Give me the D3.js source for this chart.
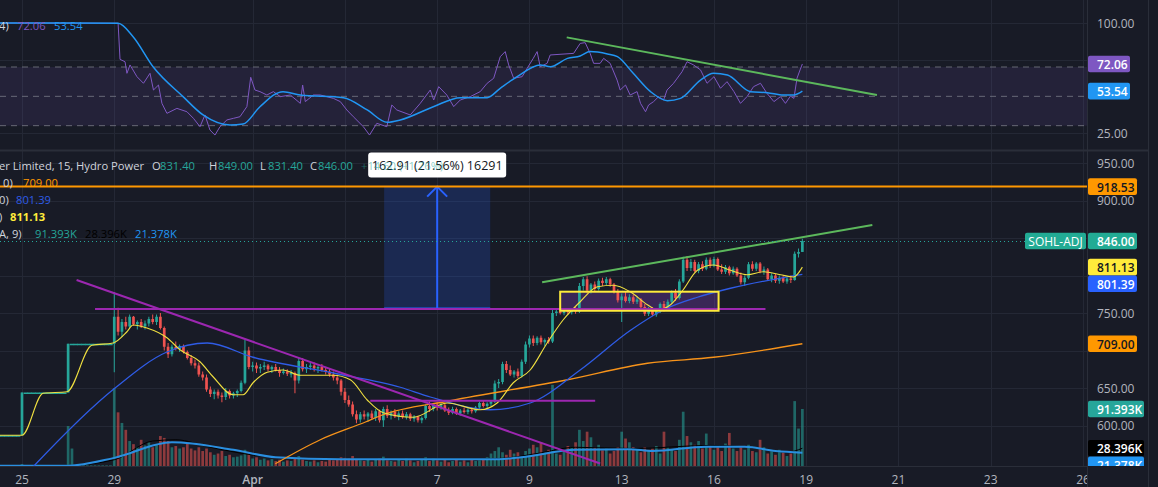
<!DOCTYPE html>
<html>
<head>
<meta charset="utf-8">
<script src="https://cdn.jsdelivr.net/npm/d3@7"></script>
<style>
  body { margin: 0; background: #181b26; overflow: hidden; }
  svg { display: block; font-family: "Open Sans", sans-serif; }
</style>
</head>
<body>
<svg id="chart" width="1158" height="487"></svg>
<script>
// ---- data ----
// time axis (day units, 12 bars per day)
var tickDays = [0, 2, 5, 7, 9, 11, 13, 15, 17, 19, 21, 23];
var tickLabels = ["25", "29", "Apr", "5", "7", "9", "13", "16", "19", "21", "23", "26"];
var priceTicks = [950, 900, 850, 800, 750, 700, 650, 600];
var rsiTicks = [100, 75, 50, 25];

// [open, high, low, close] per 15m bar
var candles = [
  [587,587,587,587],[587,587,587,587],[587,587,587,587],[587,587,587,587],[587,587,587,587],[587,587,587,587],
  [587,644,587,644],
  [644,644,644,644],[644,644,644,644],[644,644,644,644],[644,644,644,644],[644,644,644,644],[644,644,644,644],
  [644,644,644,644],[644,644,644,644],[644,644,644,644],[644,644,644,644],[644,644,644,644],
  [644,709,644,709],
  [709,709,709,709],[709,709,709,709],[709,709,709,709],[709,709,709,709],[709,709,709,709],[709,709,709,709],
  [709,709,709,709],[709,709,709,709],[709,709,709,709],[709,709,709,709],[709,709,709,709],
  [709,778,671,745],[745,757,720,725],[725,742,718,738],[738,745,728,732],[732,748,730,745],
  [745,746,733,735],[735,740,728,738],[738,742,730,732],[732,740,728,736],[736,745,732,742],
  [742,748,735,738],[738,748,734,745],[745,750,728,730],[730,732,700,705],[705,710,690,695],
  [695,708,692,705],[705,712,700,702],[702,708,698,706],[706,708,696,698],[698,700,688,690],
  [690,694,680,683],[683,688,676,680],[680,684,665,668],[668,672,660,664],[664,668,645,648],
  [648,652,638,642],[642,648,635,645],[645,648,636,640],[640,644,631,638],[638,650,634,646],
  [646,648,636,640],[640,645,636,643],[643,648,638,646],[646,660,644,657],[657,714,655,700],
  [700,705,675,678],[678,685,672,680],[680,684,670,676],[676,682,670,678],[678,685,674,680],
  [680,682,672,675],[675,680,670,678],[678,682,672,674],[674,678,665,670],[670,676,668,672],
  [672,675,666,669],[669,674,664,670],[670,672,643,660],[660,690,656,686],[686,690,672,675],
  [675,682,670,678],[678,684,674,680],[680,684,672,676],[676,680,670,678],[678,682,672,674],
  [674,678,668,672],[672,676,665,668],[668,672,660,664],[664,668,655,660],[660,662,640,645],
  [645,650,630,634],[634,640,625,628],[628,632,612,615],[615,620,603,608],[608,618,604,615],
  [615,620,608,612],[612,618,605,616],[616,620,608,610],[610,622,606,619],[619,621,604,607],
  [607,625,598,622],[622,627,610,613],[613,620,608,618],[618,622,610,612],[612,619,607,616],
  [616,620,609,611],[611,618,608,615],[615,617,606,609],[609,614,605,612],[612,613,604,607],
  [607,612,603,610],[610,628,608,626],[626,632,618,622],[622,630,619,628],[628,631,620,624],
  [624,630,621,627],[627,629,618,620],[620,624,614,617],[617,625,615,622],[622,624,614,616],
  [616,622,613,620],[620,624,616,618],[618,623,615,621],[621,624,616,619],[619,626,617,624],
  [624,632,622,630],[630,633,624,626],[626,631,623,629],[629,634,626,632],[632,660,630,656],
  [656,662,650,658],[658,685,655,682],[682,686,670,674],[674,680,666,668],[668,674,664,672],
  [672,676,663,666],[666,688,664,685],[685,712,682,708],[708,720,704,716],[716,720,706,710],
  [710,719,707,717],[717,720,708,711],[711,716,706,714],[714,718,709,712],[712,754,710,750],
  [750,756,746,752],[752,755,748,750],[750,754,747,753],[753,756,748,751],[751,755,748,754],
  [754,758,749,752],[752,790,750,786],[786,798,780,795],[795,799,776,780],[780,790,776,788],
  [788,792,778,782],[782,796,780,793],[793,797,786,790],[790,798,787,795],[795,797,785,788],
  [788,790,776,778],[778,782,764,767],[767,776,738,772],[772,778,764,766],[766,775,763,771],
  [771,774,762,765],[765,772,762,768],[768,770,756,758],[758,762,746,749],[749,758,746,755],
  [755,758,746,748],[748,756,745,753],[753,764,750,762],[762,766,752,756],[756,768,754,765],
  [765,780,762,777],[777,782,766,770],[770,795,768,792],[792,825,790,821],[821,826,806,810],
  [810,822,806,818],[818,821,804,806],[806,818,803,815],[815,819,806,809],[809,824,807,821],
  [821,824,810,813],[813,825,811,822],[822,824,806,808],[808,815,802,805],[805,814,802,811],
  [811,813,800,803],[803,812,801,809],[809,811,798,800],[800,804,788,791],[791,800,786,797],
  [797,818,795,815],[815,819,806,809],[809,818,806,816],[816,818,803,805],[805,812,801,808],
  [808,810,793,795],[795,803,791,800],[800,802,790,793],[793,800,789,797],[797,800,790,792],
  [792,798,789,796],[796,800,790,794],[794,832,793,829],[829,836,824,831.4],[831.4,849,831.4,846]
];

// volume per bar, thousands
var volumes = [
  0.5,0.5,0.5,0.5,0.5,0.5,3,0.5,0.5,0.5,0.5,0.5,0.5,0.5,0.5,0.5,0.5,0.5,64,28,
  1,1,1,1,1,1,1,1,1,1,125,86,69,58,40,35,30,42,33,38,
  30,35,48,45,40,30,32,28,30,36,28,25,30,24,28,22,18,20,24,16,
  18,14,15,17,26,20,12,14,10,12,9,11,8,10,7,9,8,12,16,10,
  8,7,9,6,8,7,10,9,11,14,13,12,16,10,9,8,11,7,10,12,
  15,9,8,7,10,8,12,9,6,8,10,14,8,12,9,7,10,6,8,11,
  7,9,6,10,8,9,12,14,20,24,30,22,18,26,20,22,16,24,28,34,
  30,38,22,26,130,20,18,24,32,30,38,58,40,55,46,30,34,25,28,20,
  24,30,55,44,38,30,26,22,30,25,28,32,20,55,30,26,24,42,87,48,
  38,34,40,28,52,32,26,30,24,36,53,28,24,30,26,34,24,22,42,30,
  20,24,18,26,22,16,20,104,60,91.393
];

// moving averages as [bar, price]
var maFast = [[0,587],[6,587],[11.5,643],[17.7,645],[24.2,707],[29.7,710],[33.3,725],[34.9,734],[38.5,730],
  [43.7,717],[47.1,701],[52.3,685],[55.7,665],[60.9,641],[63.5,641],[66.1,657],[69.8,671],[73.9,674],
  [78.4,667],[86.9,667],[91.4,661],[95.8,634],[100,617],[107.8,611],[116.6,630],[125.2,621],[129.6,630],
  [133.8,657],[138.2,674],[142.6,710],[146.8,741],[151.2,765],[155.7,785],[159.8,787],[164.3,778],
  [168.7,761],[171.3,754],[174.7,761],[178,781],[181.7,807],[185.9,814],[190.3,807],[194.7,801],
  [198.9,805],[203.3,801],[206.7,798],[209,811.13]];
var maMid = [[8,540],[9.1,546],[30.2,650],[43.7,698],[54.2,710],[66.1,691],[87,670],[104.4,651],[112.2,638],
  [127.8,621],[138.2,630],[151.2,674],[164.3,727],[172.8,754],[181.7,771],[190.3,783],[209,801.39]];
var maSlow = [[71.9,549],[83.6,581],[95.5,605],[99.2,613],[117.4,633],[147.9,661],[168.7,683],[185.9,691],[209,709]];
var volMa = [[0,0.5],[18,0.5],[30,13],[45,38],[61,26],[72,14],[89,11],[130,11],[136,14],[150,26],[164,27],
  [170,24],[184,31],[194,31],[202,24],[209,21.378]];
var volMa2 = [[0,0.5],[18,1],[30,10],[40,40],[46,42],[55,30],[70,15],[90,11],[130,12],[140,20],[150,30],
  [165,28],[185,33],[195,30],[205,22],[209,28.396]];

// RSI and its moving average as [bar, value]
var rsi = [[0,100],[31,99.8],[31.5,75.2],[32.8,73.6],[33.3,65.7],[34.1,71.4],[35.9,63.4],[37.6,58.9],[39.3,65.7],
  [40.2,54.3],[41.5,57.7],[42.4,45.2],[43.7,38.4],[46.3,41.8],[48.9,39.5],[50.6,35],[52.3,29.3],[53.6,37.3],
  [54.9,27],[56.2,23.6],[57.5,29.3],[59.3,33.9],[61,35],[62.7,36.1],[64.5,43],[65.5,63],[66.6,54.3],[67.9,53.2],
  [69.7,50.9],[71.4,53.2],[73.2,49.8],[75.8,50.9],[78.4,45.2],[79,57.7],[79.7,46.4],[81.8,50.9],[83.6,50.9],
  [87,48.6],[88.8,46.4],[90.5,40.7],[92.2,36.1],[94.8,29.3],[96.4,23.6],[98.3,31.6],[100.9,29.3],[102.2,44.1],
  [103.5,40.7],[107,37.3],[109.6,45.2],[112.2,54.3],[113.1,47.5],[114.4,56.6],[116.5,50.9],[118.3,43],[120,47.5],
  [122.6,49.8],[125.2,53.2],[127,58.9],[128.7,62.3],[130.4,77],[131.7,80.5],[132.6,71.4],[133.9,62.3],
  [136.1,63.4],[137.4,69.1],[139,75.9],[140,80.5],[140.8,70.2],[142.6,72.5],[143.4,78.2],[149.5,79.3],
  [151.2,86.1],[152.5,86.6],[153.8,79.3],[154.7,72.5],[156.4,72.5],[157.3,75.9],[159,72.5],[160.8,61.1],
  [161.6,54.3],[163,57.7],[164.2,50.9],[166,53.2],[166.9,45.2],[168.2,39.5],[169,44.1],[170.3,46.4],
  [171.6,49.8],[172.9,47.5],[173.8,54.3],[175.5,58.9],[177.7,66.8],[179,73.6],[180.7,71.4],[182.5,68],
  [184.2,58.9],[186,63.4],[187.7,55.5],[189.4,60],[191.2,53.2],[192.9,45.2],[194.6,49.8],[196.3,56.6],
  [198.1,58.9],[199.8,52],[201.6,46.4],[203.3,49.8],[204.6,45.2],[205.9,50.2],[206.8,48.6],[207.6,62.3],
  [208.4,68],[209,72.06]];
var rsiMa = [[0,100],[31,99.8],[34.9,90.7],[40.1,70.2],[47.9,49.8],[53.1,37.3],[60.1,30.5],[63.5,31.1],[67.9,42.9],
  [73.9,53.2],[78.4,50.9],[89.6,49.1],[95.8,40.7],[101,32.3],[104.4,33.9],[113,42.9],[120,49.1],[127,49.1],
  [130.4,55.5],[134.8,63.4],[140.8,71.4],[143.4,70.2],[147.9,75.9],[151.2,77.5],[153.8,80.5],[158.3,78.9],
  [160.9,77.1],[165,65.7],[169.5,53.2],[173.9,47],[177.3,48.6],[182.5,61.1],[185.9,65.7],[189.5,64.5],
  [195.5,53.2],[199.9,52.5],[204.1,50.9],[206.7,50.9],[209,53.54]];

// drawings as [bar, price]
var trendDown = [[20.2,794],[156.4,549.3]];
var resistance = [[25,755.3],[199.4,755.3]];
var baseLine = [[96.6,633],[155.1,633]];
var trendUp = [[141.3,790.9],[227.2,867.3]];
var zoneBox = [[146,778.4],[187.2,753]];
var measureBox = [[100.2,918.53],[127.8,755.62]];
var targetLevel = 918.53;
var rsiTrend = [[147.7,90.2],[228.4,50.9]];

// ---- layout ----
var W = 1158, H = 487;
var plotRight = 1087, axisRight = 1148;
var rsiBottom = 150, mainBottom = 466;
var barsPerDay = 12, firstDayBar = 6;

var up = "#26a69a", down = "#ef5350";
var gridColor = "#242835", textColor = "#b2b5be";

var svg = d3.select("#chart");

var xDay = d3.scaleLinear().domain([0, 23]).range([22, 1083]);
function bx(i) { return xDay((i - firstDayBar) / barsPerDay); }
var step = bx(1) - bx(0);
var bw = step * 0.7;

var yP = d3.scaleLinear().domain([950, 600]).range([163, 425.5]);
var yR = d3.scaleLinear().domain([100, 25]).range([23, 133]);
var yV = d3.scaleLinear().domain([0, 100]).range([mainBottom, 403.6]);

var defs = svg.append("defs");
defs.append("clipPath").attr("id", "clipRsi")
  .append("rect").attr("x", 0).attr("y", 0).attr("width", plotRight).attr("height", rsiBottom);
defs.append("clipPath").attr("id", "clipMain")
  .append("rect").attr("x", 0).attr("y", rsiBottom + 1).attr("width", plotRight).attr("height", mainBottom - rsiBottom - 1);
defs.append("clipPath").attr("id", "clipMainAxis")
  .append("rect").attr("x", 0).attr("y", rsiBottom + 1).attr("width", W).attr("height", mainBottom - rsiBottom - 1);

svg.append("rect").attr("width", W).attr("height", H).attr("fill", "#181b26");

// ---- grid ----
var grid = svg.append("g").attr("stroke", gridColor).attr("stroke-width", 1);
grid.selectAll(".vg").data(tickDays).enter().append("line")
  .attr("x1", function(d) { return Math.round(xDay(d)) + 0.5; })
  .attr("x2", function(d) { return Math.round(xDay(d)) + 0.5; })
  .attr("y1", 0).attr("y2", mainBottom);
grid.selectAll(".hg").data(priceTicks).enter().append("line")
  .attr("x1", 0).attr("x2", plotRight)
  .attr("y1", function(d) { return Math.round(yP(d)) + 0.5; })
  .attr("y2", function(d) { return Math.round(yP(d)) + 0.5; });
grid.selectAll(".rg").data(rsiTicks.filter(function(d) { return d != 50; })).enter().append("line")
  .attr("x1", 0).attr("x2", plotRight)
  .attr("y1", function(d) { return Math.round(yR(d)) + 0.5; })
  .attr("y2", function(d) { return Math.round(yR(d)) + 0.5; });

// ---- RSI pane ----
var rsiG = svg.append("g").attr("clip-path", "url(#clipRsi)");
rsiG.append("rect").attr("x", 0).attr("width", plotRight)
  .attr("y", yR(70)).attr("height", yR(30) - yR(70))
  .attr("fill", "rgba(126,87,194,0.12)");
rsiG.selectAll(".band").data([70, 50, 30]).enter().append("line")
  .attr("x1", 0).attr("x2", plotRight)
  .attr("y1", function(d) { return yR(d); }).attr("y2", function(d) { return yR(d); })
  .attr("stroke", "#787b86").attr("stroke-dasharray", "6,5").attr("stroke-opacity", 0.8);

var rsiLine = d3.line().x(function(d) { return bx(d[0]); }).y(function(d) { return yR(d[1]); });
rsiG.append("path").datum(rsi).attr("d", rsiLine)
  .attr("fill", "none").attr("stroke", "#7e57c2").attr("stroke-width", 1);
rsiG.append("path").datum(rsiMa).attr("d", rsiLine.curve(d3.curveMonotoneX))
  .attr("fill", "none").attr("stroke", "#2196f3").attr("stroke-width", 1.5);
rsiG.append("line")
  .attr("x1", bx(rsiTrend[0][0])).attr("y1", yR(rsiTrend[0][1]))
  .attr("x2", bx(rsiTrend[1][0])).attr("y2", yR(rsiTrend[1][1]))
  .attr("stroke", "#5cb85c").attr("stroke-width", 2);

// ---- main pane ----
var mainG = svg.append("g").attr("clip-path", "url(#clipMain)");

// volume
mainG.selectAll(".vol").data(volumes).enter().append("rect")
  .attr("x", function(d, i) { return bx(i) - bw / 2; })
  .attr("width", bw)
  .attr("y", function(d) { return yV(d); })
  .attr("height", function(d) { return mainBottom - yV(d); })
  .attr("fill", function(d, i) { return candles[i][3] >= candles[i][0] ? up : down; })
  .attr("fill-opacity", 0.55);

var volLine = d3.line().x(function(d) { return bx(d[0]); }).y(function(d) { return yV(d[1]); }).curve(d3.curveMonotoneX);
mainG.append("path").datum(volMa2).attr("d", volLine)
  .attr("fill", "none").attr("stroke", "#000").attr("stroke-width", 1);
mainG.append("path").datum(volMa).attr("d", volLine)
  .attr("fill", "none").attr("stroke", "#2a8fe0").attr("stroke-width", 2);

// measure box (behind candles)
var mb = mainG.append("g");
mb.append("rect")
  .attr("x", bx(measureBox[0][0])).attr("width", bx(measureBox[1][0]) - bx(measureBox[0][0]))
  .attr("y", yP(measureBox[0][1])).attr("height", yP(measureBox[1][1]) - yP(measureBox[0][1]))
  .attr("fill", "rgba(41,98,255,0.2)");
mb.append("line")
  .attr("x1", bx(measureBox[0][0])).attr("x2", bx(measureBox[1][0]))
  .attr("y1", yP(measureBox[1][1])).attr("y2", yP(measureBox[1][1]))
  .attr("stroke", "#2962ff").attr("stroke-width", 2.5);
var midBar = (measureBox[0][0] + measureBox[1][0]) / 2;
mb.append("line")
  .attr("x1", bx(midBar)).attr("x2", bx(midBar))
  .attr("y1", yP(measureBox[1][1])).attr("y2", yP(measureBox[0][1]))
  .attr("stroke", "#2962ff").attr("stroke-width", 2);
mb.append("polyline")
  .attr("points", [[bx(midBar) - 10, yP(measureBox[0][1]) + 10], [bx(midBar), yP(measureBox[0][1])], [bx(midBar) + 10, yP(measureBox[0][1]) + 10]].join(" "))
  .attr("fill", "none").attr("stroke", "#2962ff").attr("stroke-width", 2);

// zone rectangle fill
mainG.append("rect")
  .attr("x", bx(zoneBox[0][0])).attr("width", bx(zoneBox[1][0]) - bx(zoneBox[0][0]))
  .attr("y", yP(zoneBox[0][1])).attr("height", yP(zoneBox[1][1]) - yP(zoneBox[0][1]))
  .attr("fill", "rgba(123,63,180,0.35)");

// candles
var cg = mainG.append("g").selectAll("g").data(candles).enter().append("g");
cg.append("line")
  .attr("x1", function(d, i) { return bx(i); }).attr("x2", function(d, i) { return bx(i); })
  .attr("y1", function(d) { return yP(d[1]); }).attr("y2", function(d) { return yP(d[2]); })
  .attr("stroke", function(d) { return d[3] >= d[0] ? up : down; }).attr("stroke-width", 1);
cg.append("rect")
  .attr("x", function(d, i) { return d[1] == d[2] ? bx(i) - step / 2 - 0.3 : bx(i) - bw / 2; })
  .attr("width", function(d) { return d[1] == d[2] ? step + 0.6 : bw; })
  .attr("y", function(d) { return yP(Math.max(d[0], d[3])); })
  .attr("height", function(d) { return Math.max(1.5, Math.abs(yP(d[0]) - yP(d[3]))); })
  .attr("fill", function(d) { return d[3] >= d[0] ? up : down; });

// moving averages
var priceLine = d3.line().x(function(d) { return bx(d[0]); }).y(function(d) { return yP(d[1]); }).curve(d3.curveMonotoneX);
mainG.append("path").datum(maSlow).attr("d", priceLine)
  .attr("fill", "none").attr("stroke", "#f7931a").attr("stroke-width", 1.3);
mainG.append("path").datum(maMid).attr("d", priceLine)
  .attr("fill", "none").attr("stroke", "#2f5ce6").attr("stroke-width", 1.3);
mainG.append("path").datum(maFast).attr("d", priceLine)
  .attr("fill", "none").attr("stroke", "#f0e040").attr("stroke-width", 1.1);

// drawings
function seg(g, pts, color, width) {
  g.append("line")
    .attr("x1", bx(pts[0][0])).attr("y1", yP(pts[0][1]))
    .attr("x2", bx(pts[1][0])).attr("y2", yP(pts[1][1]))
    .attr("stroke", color).attr("stroke-width", width);
}
seg(mainG, trendDown, "#9c27b0", 2);
seg(mainG, resistance, "#9c27b0", 2);
seg(mainG, baseLine, "#9c27b0", 2);
seg(mainG, trendUp, "#5cb85c", 2);
mainG.append("rect")
  .attr("x", bx(zoneBox[0][0])).attr("width", bx(zoneBox[1][0]) - bx(zoneBox[0][0]))
  .attr("y", yP(zoneBox[0][1])).attr("height", yP(zoneBox[1][1]) - yP(zoneBox[0][1]))
  .attr("fill", "none").attr("stroke", "#ffeb3b").attr("stroke-width", 2);

// last price dotted line and target level
var last = candles[candles.length - 1];
mainG.append("line").attr("x1", 0).attr("x2", plotRight)
  .attr("y1", Math.round(yP(last[3])) + 0.5).attr("y2", Math.round(yP(last[3])) + 0.5)
  .attr("stroke", up).attr("stroke-dasharray", "1,3");
mainG.append("line").attr("x1", 0).attr("x2", plotRight)
  .attr("y1", yP(targetLevel)).attr("y2", yP(targetLevel))
  .attr("stroke", "#ff9800").attr("stroke-width", 2);

// measure label
var mTop = yP(measureBox[0][1]);
var diff = measureBox[0][1] - measureBox[1][1];
var mLabel = svg.append("g");
mLabel.append("rect").attr("x", bx(midBar) - 69).attr("y", mTop - 34).attr("width", 138).attr("height", 25)
  .attr("rx", 3).attr("fill", "#ffffff");
mLabel.append("text").attr("x", bx(midBar)).attr("y", mTop - 21.5)
  .attr("text-anchor", "middle").attr("dominant-baseline", "central")
  .attr("font-size", 12.5).attr("fill", "#131722")
  .text(diff.toFixed(2) + " (" + (diff / measureBox[1][1] * 100).toFixed(2) + "%) " + Math.round(diff * 100));

// ---- legends ----
function legendRow(y, parts) {
  var t = svg.append("g").attr("font-size", 11.2);
  parts.forEach(function(p) {
    t.append("text").attr("x", p[1]).attr("y", y).attr("dominant-baseline", "central")
      .attr("fill", p[2]).attr("font-weight", p[3] || "normal").attr("fill-opacity", p[4] || 1).text(p[0]);
  });
}
var prevClose = candles[candles.length - 2][3];
var chg = last[3] - prevClose;
legendRow(165, [["er Limited, 15, Hydro Power", -1, "#d1d4dc"],
  ["O", 152, "#d1d4dc"], [last[0].toFixed(2), 160, up],
  ["H", 209, "#d1d4dc"], [last[1].toFixed(2), 218, up],
  ["L", 260, "#d1d4dc"], [last[2].toFixed(2), 268, up],
  ["C", 310, "#d1d4dc"], [last[3].toFixed(2), 318, up]]);
legendRow(165, [["+" + chg.toFixed(2) + " (+" + (chg / prevClose * 100).toFixed(2) + "%)", 361, up, "normal", 0.55]]);
legendRow(182, [["0)", 3, "#d1d4dc"], [maSlow[maSlow.length - 1][1].toFixed(2), 23, "#ff9800"]]);
legendRow(199, [["0)", -1, "#d1d4dc"], [maMid[maMid.length - 1][1].toFixed(2), 16, "#2f5ce6"]]);
legendRow(216, [[")", -1, "#d1d4dc"], [maFast[maFast.length - 1][1].toFixed(2), 10, "#ffeb3b", "bold"]]);
legendRow(233, [["A, 9)", -1, "#d1d4dc"], [volumes[volumes.length - 1].toFixed(3) + "K", 35, up],
  [volMa2[volMa2.length - 1][1].toFixed(3) + "K", 85, "#000"], [volMa[volMa.length - 1][1].toFixed(3) + "K", 135, "#2196f3"]]);
legendRow(25, [["4)", -1, "#d1d4dc"], [rsi[rsi.length - 1][1].toFixed(2), 17, "#7e57c2"],
  [rsiMa[rsiMa.length - 1][1].toFixed(2), 54, "#2196f3"]]);

// ---- time axis ----
svg.append("line").attr("x1", 0).attr("x2", axisRight).attr("y1", mainBottom + 0.5).attr("y2", mainBottom + 0.5)
  .attr("stroke", "#2a2e39");
svg.append("line").attr("x1", 0).attr("x2", axisRight).attr("y1", rsiBottom + 0.5).attr("y2", rsiBottom + 0.5)
  .attr("stroke", "#2a2e39").attr("stroke-width", 2);
svg.selectAll(".tl").data(tickDays).enter().append("text")
  .attr("x", function(d) { return xDay(d); }).attr("y", 479)
  .attr("text-anchor", "middle").attr("dominant-baseline", "central")
  .attr("font-size", 12).attr("fill", textColor)
  .attr("font-weight", function(d, i) { return tickLabels[i] == "Apr" ? "600" : "normal"; })
  .text(function(d, i) { return tickLabels[i]; });

// ---- price axis ----
svg.append("rect").attr("x", plotRight).attr("y", 0).attr("width", W - plotRight).attr("height", H).attr("fill", "#181b26");
svg.append("line").attr("x1", plotRight + 0.5).attr("x2", plotRight + 0.5).attr("y1", 0).attr("y2", H).attr("stroke", "#2a2e39");
svg.append("line").attr("x1", axisRight + 0.5).attr("x2", axisRight + 0.5).attr("y1", 0).attr("y2", H).attr("stroke", "#2a2e39");
svg.append("line").attr("x1", plotRight).attr("x2", axisRight).attr("y1", rsiBottom + 0.5).attr("y2", rsiBottom + 0.5)
  .attr("stroke", "#2a2e39").attr("stroke-width", 2);

// value labels on the axis, pushed apart when they overlap
function placeLabels(list, h) {
  list.sort(function(a, b) { return a.y - b.y; });
  for (var k = 1; k < list.length; k++) {
    if (list[k].y < list[k - 1].y + h) list[k].y = list[k - 1].y + h;
  }
  return list;
}
var labelH = 16.6;
var mainLabels = placeLabels([
  { y: yP(targetLevel), text: targetLevel.toFixed(2), bg: "#ff9800", fg: "#131722", w: 49 },
  { y: yP(last[3]), text: last[3].toFixed(2), bg: "#22ab94", fg: "#fff", w: 49 },
  { y: yP(maFast[maFast.length - 1][1]), text: maFast[maFast.length - 1][1].toFixed(2), bg: "#ffeb3b", fg: "#131722", w: 49 },
  { y: yP(maMid[maMid.length - 1][1]), text: maMid[maMid.length - 1][1].toFixed(2), bg: "#2962ff", fg: "#fff", w: 49 },
  { y: yP(maSlow[maSlow.length - 1][1]), text: maSlow[maSlow.length - 1][1].toFixed(2), bg: "#ff9800", fg: "#131722", w: 49 },
  { y: yV(volumes[volumes.length - 1]), text: volumes[volumes.length - 1].toFixed(3) + "K", bg: "#26a69a", fg: "#fff", w: 56 },
  { y: yV(volMa2[volMa2.length - 1][1]), text: volMa2[volMa2.length - 1][1].toFixed(3) + "K", bg: "#000", fg: "#fff", w: 56 },
  { y: yV(volMa[volMa.length - 1][1]), text: volMa[volMa.length - 1][1].toFixed(3) + "K", bg: "#2196f3", fg: "#fff", w: 56 }
], labelH);
var rsiLabels = placeLabels([
  { y: yR(rsi[rsi.length - 1][1]), text: rsi[rsi.length - 1][1].toFixed(2), bg: "#7e57c2", fg: "#fff", w: 42 },
  { y: yR(rsiMa[rsiMa.length - 1][1]), text: rsiMa[rsiMa.length - 1][1].toFixed(2), bg: "#2196f3", fg: "#fff", w: 42 }
], labelH);

// tick texts, skipped where a value label sits on top of them
function covered(y, list) {
  return list.some(function(l) { return Math.abs(l.y - y) < 9; });
}
var axisG = svg.append("g").attr("font-size", 12).attr("fill", textColor);
axisG.selectAll(".pt").data(priceTicks.filter(function(d) { return !covered(yP(d), mainLabels); })).enter().append("text")
  .attr("x", 1097).attr("y", function(d) { return yP(d); }).attr("dominant-baseline", "central")
  .text(function(d) { return d.toFixed(2); });
axisG.selectAll(".rt").data(rsiTicks.filter(function(d) { return !covered(yR(d), rsiLabels); })).enter().append("text")
  .attr("x", 1097).attr("y", function(d) { return yR(d); }).attr("dominant-baseline", "central")
  .text(function(d) { return d.toFixed(2); });

function drawLabels(g, list) {
  var lg = g.selectAll(".lb").data(list).enter().append("g");
  lg.append("rect").attr("x", plotRight + 1).attr("y", function(d) { return d.y - labelH / 2; })
    .attr("width", function(d) { return d.w; }).attr("height", labelH).attr("rx", 2)
    .attr("fill", function(d) { return d.bg; });
  lg.append("text").attr("x", 1097).attr("y", function(d) { return d.y + 0.5; })
    .attr("dominant-baseline", "central").attr("font-size", 12).attr("font-weight", 600)
    .attr("fill", function(d) { return d.fg; }).text(function(d) { return d.text; });
}
drawLabels(svg.append("g").attr("clip-path", "url(#clipMainAxis)"), mainLabels);
drawLabels(svg.append("g"), rsiLabels);

// symbol tag next to last price
var tag = svg.append("g");
tag.append("rect").attr("x", 1025).attr("y", yP(last[3]) - labelH / 2).attr("width", 61).attr("height", labelH)
  .attr("rx", 2).attr("fill", "#22ab94");
tag.append("text").attr("x", 1055.5).attr("y", yP(last[3]) + 0.5).attr("text-anchor", "middle")
  .attr("dominant-baseline", "central").attr("font-size", 12).attr("fill", "#fff").text("SOHL-ADJ");
</script>
</body>
</html>
